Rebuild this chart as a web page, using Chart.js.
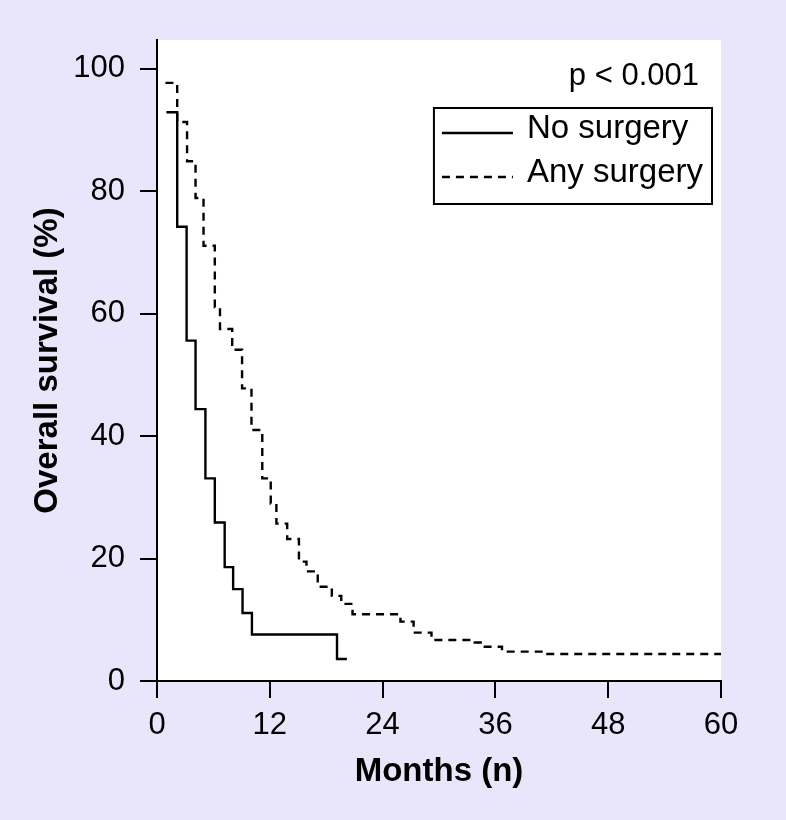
<!DOCTYPE html>
<html><head><meta charset="utf-8">
<script src="https://cdn.jsdelivr.net/npm/chart.js@4"></script>
<style>html,body{margin:0;padding:0;background:#E9E6FB;}#wrap{width:786px;height:820px;}</style>
</head><body><div id="wrap"><canvas id="c" width="786" height="820"></canvas></div>
<script>
// ---- data ----
const noSurgeryMonths   = [1.0, 2.15, 3.15, 4.1, 5.15, 6.15, 7.2, 8.1, 9.1, 10.1, 19.15, 20.2];
const noSurgerySurvival = [92.9, 74.2, 55.6, 44.4, 33.1, 25.9, 18.6, 15.0, 11.1, 7.6, 3.6, 3.6];
const anySurgeryMonths   = [0.9, 2.15, 3.2, 4.1, 4.95, 6.15, 6.7, 8.0, 9.05, 10.05, 11.2, 12.1, 12.7, 13.85, 15.1, 15.9, 17.1, 18.6, 19.6, 20.8, 25.9, 27.3, 29.2, 33.8, 34.7, 36.7, 41.1, 60];
const anySurgerySurvival = [97.7, 91.3, 84.9, 78.9, 71.1, 61.1, 57.5, 54.1, 47.8, 41.0, 33.1, 29.0, 25.7, 23.2, 19.5, 17.9, 15.4, 13.9, 12.6, 10.9, 9.7, 7.9, 6.7, 6.3, 5.6, 4.8, 4.4, 4.4];
const seriesLabels = ['No surgery', 'Any surgery'];
const xTickValues = [0, 12, 24, 36, 48, 60];
const yTickValues = [0, 20, 40, 60, 80, 100];
const xTitle = 'Months (n)';
const yTitle = 'Overall survival (%)';
const pValueLabel = 'p < 0.001';

const FONT = '"Liberation Sans", Arial, Helvetica, sans-serif';
const toPts = (xs, ys) => xs.map((x, i) => ({x: x, y: ys[i]}));

const whiteArea = {
  id: 'whiteArea',
  beforeDraw(chart) {
    const {ctx, chartArea: a} = chart;
    ctx.save();
    ctx.fillStyle = '#ffffff';
    ctx.fillRect(a.left, a.top, a.right - a.left, a.bottom - a.top);
    ctx.restore();
  }
};

const kmLegend = {
  id: 'kmLegend',
  afterDraw(chart) {
    const {ctx, chartArea: a} = chart;
    ctx.save();
    ctx.fillStyle = '#000';
    ctx.font = '31px ' + FONT;
    ctx.textAlign = 'right';
    ctx.textBaseline = 'alphabetic';
    ctx.fillText(pValueLabel, a.right - 22, a.top + 45);

    ctx.font = '33px ' + FONT;
    const ds = chart.data.datasets;
    const tw = Math.max.apply(null, ds.map(d => ctx.measureText(d.label).width));
    const padL = 8, lineLen = 71, gap = 14, padR = 9;
    const w = padL + lineLen + gap + tw + padR;
    const boxRight = a.right - 9, boxLeft = boxRight - w;
    const top = a.top + 68, h = 96;
    ctx.strokeStyle = '#000';
    ctx.lineWidth = 2;
    ctx.setLineDash([]);
    ctx.strokeRect(boxLeft, top, w, h);
    ds.forEach((d, i) => {
      const y = top + 25 + i * 44;
      ctx.setLineDash(d.borderDash || []);
      ctx.lineWidth = d.borderWidth;
      ctx.beginPath();
      ctx.moveTo(boxLeft + padL, y);
      ctx.lineTo(boxLeft + padL + lineLen, y);
      ctx.stroke();
      ctx.setLineDash([]);
      ctx.textAlign = 'left';
      ctx.textBaseline = 'middle';
      ctx.fillText(d.label, boxLeft + padL + lineLen + gap, y - 4);
    });
    ctx.restore();
  }
};

new Chart(document.getElementById('c'), {
  type: 'line',
  data: {
    datasets: [
      {label: seriesLabels[0], data: toPts(noSurgeryMonths, noSurgerySurvival),
       borderColor: '#000', borderWidth: 2.4, stepped: 'before', pointRadius: 0, fill: false},
      {label: seriesLabels[1], data: toPts(anySurgeryMonths, anySurgerySurvival),
       borderColor: '#000', borderWidth: 2.4, borderDash: [8, 6], stepped: 'before', pointRadius: 0, fill: false}
    ]
  },
  options: {
    responsive: false,
    animation: false,
    devicePixelRatio: 1,
    layout: {padding: {left: 0, top: 40, right: 65, bottom: 0}},
    plugins: {legend: {display: false}, tooltip: {enabled: false}},
    scales: {
      x: {
        type: 'linear', min: 0, max: 60,
        afterBuildTicks(s) { s.ticks = xTickValues.map(v => ({value: v})); },
        afterFit(s) { s.height = 139; },
        grid: {drawOnChartArea: false, drawTicks: true, tickLength: 17, color: '#000', lineWidth: 2},
        border: {display: true, color: '#000', width: 2},
        ticks: {color: '#000', font: {family: FONT, size: 31}, padding: 9, maxRotation: 0, autoSkip: false},
        title: {display: true, text: xTitle, color: '#000', font: {family: FONT, size: 33, weight: 'bold'}, padding: {top: 0, bottom: 28}}
      },
      y: {
        type: 'linear', min: 0, max: 104.7,
        afterBuildTicks(s) { s.ticks = yTickValues.map(v => ({value: v})); },
        afterFit(s) { s.width = 157; },
        grid: {drawOnChartArea: false, drawTicks: true, tickLength: 17, color: '#000', lineWidth: 2},
        border: {display: true, color: '#000', width: 2},
        ticks: {color: '#000', font: {family: FONT, size: 31}, padding: 15, autoSkip: false},
        title: {display: true, text: yTitle, color: '#000', font: {family: FONT, size: 33, weight: 'bold'}, padding: {top: 28, bottom: 0}}
      }
    }
  },
  plugins: [whiteArea, kmLegend]
});
</script>
</body></html>
